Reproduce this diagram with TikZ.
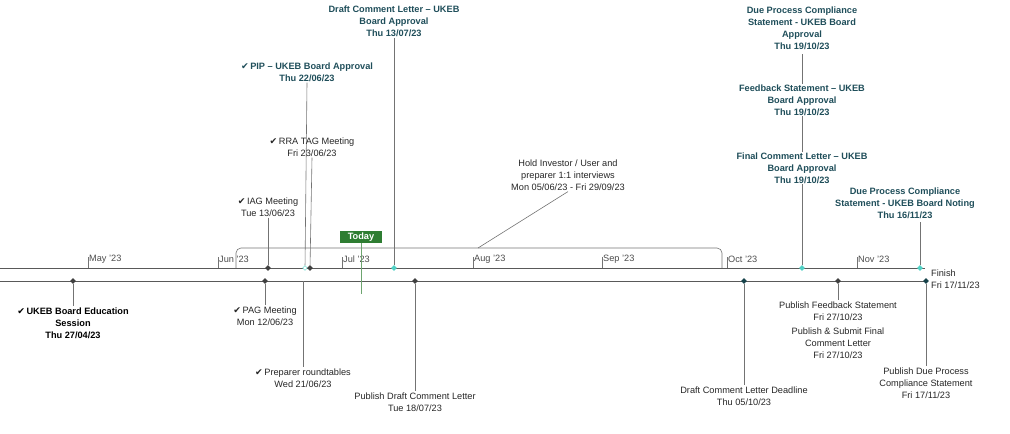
\documentclass[tikz,border=0pt]{standalone}
\usepackage{fontspec}
\usetikzlibrary{shapes.geometric}
\setmainfont{Liberation Sans}
\newfontfamily\symf{DejaVu Sans}
\definecolor{teal}{HTML}{1F4E5A}
\definecolor{cyanm}{HTML}{4FD1C5}
\definecolor{darkteal}{HTML}{17424A}
\definecolor{tgreen}{HTML}{2E7D32}
\newcommand{\ck}{{\symf\char"2714}}
\begin{document}
\begin{tikzpicture}[x=1pt,y=-1pt,
 lbl/.style={font=\fontsize{9.2}{12}\selectfont,align=center,inner sep=1pt,text=black!85},
 blbl/.style={lbl,font=\fontsize{9.2}{12}\selectfont\bfseries,text=teal},
 kblbl/.style={lbl,font=\fontsize{9.2}{12}\selectfont\bfseries,text=black},
 mon/.style={font=\fontsize{9.2}{12}\selectfont,text=black!70,anchor=west,inner sep=1pt},
 dm/.style={diamond,fill=black!75,inner sep=0pt,minimum size=6pt},
 dc/.style={dm,fill=cyanm},
 dt/.style={dm,fill=darkteal},
 ln/.style={draw=black!65,line width=0.6pt},
 vl/.style={draw=black!55,line width=0.6pt}]
\useasboundingbox (0,0) rectangle (1010,434);
% axes
\coordinate (a0) at (0,268); \coordinate (a1) at (925,268);
\coordinate (b0) at (0,281); \coordinate (b1) at (926,281);
\draw[ln] (a0) -- (a1);
\draw[ln] (b0) -- (b1);
% month ticks
\foreach \x/\m in {88/May,218/Jun,342/Jul,473/Aug,602/Sep,727/Oct,857/Nov}{
 \draw[vl] (\x,257) -- (\x,268);
 \node[mon] (m\m) at (\x,259) {\m\ '23};}
% bracket
\draw[vl,rounded corners=5pt] (236,268) -- (236,248) -- (722,248) -- (722,268);
\coordinate (br) at (478,248);
% today
\node[fill=tgreen,text=white,font=\fontsize{9.2}{12}\selectfont\bfseries,inner sep=2pt,minimum width=42pt] (today) at (361,237) {Today};
\coordinate (te) at (361,294);
\draw[tgreen!70!white,line width=1pt] (today.south) -- (te);
% top diamonds
\node[dm] (t1) at (268,268) {};
\node[dc,fill=white,draw=cyanm,minimum size=5pt] (t2) at (305,268) {};
\node[dm] (t3) at (310,268) {};
\node[dc] (t4) at (394,268) {};
\node[dc] (t5) at (802,268) {};
\node[dc] (t6) at (920,268) {};
% bottom diamonds
\node[dm] (b1d) at (73,281) {};
\node[dm] (b2d) at (265,281) {};
\node[dm] (b3d) at (415,281) {};
\node[dt] (b4d) at (744,281) {};
\node[dm] (b5d) at (838,281) {};
\node[dt] (b6d) at (926,281) {};
\coordinate (pr) at (303,281);
% top labels
\node[blbl] (L1) at (394,21) {Draft Comment Letter – UKEB\\Board Approval\\Thu 13/07/23};
\draw[vl] (L1.south) -- (t4);
\node[blbl] (L2) at (307,72) {\ck\,PIP – UKEB Board Approval\\Thu 22/06/23};
\draw[vl] (L2.south) -- (t2);
\node[lbl] (L3) at (312,147) {\ck\,RRA TAG Meeting\\Fri 23/06/23};
\draw[vl] (L3.south) -- (t3);
\node[lbl] (L4) at (268,207) {\ck\,IAG Meeting\\Tue 13/06/23};
\draw[vl] (L4.south) -- (t1);
\node[lbl] (L5) at (568,175) {Hold Investor / User and\\preparer 1:1 interviews\\Mon 05/06/23 - Fri 29/09/23};
\draw[vl] (br) -- (L5.south);
\draw[vl] (802,54) -- (t5);
\node[blbl] (L6) at (802,28) {Due Process Compliance\\Statement - UKEB Board\\Approval\\Thu 19/10/23};
\node[blbl,fill=white] (L7) at (802,100) {Feedback Statement – UKEB\\Board Approval\\Thu 19/10/23};
\node[blbl,fill=white] (L8) at (802,168) {Final Comment Letter – UKEB\\Board Approval\\Thu 19/10/23};
\node[blbl] (L9) at (905,203) {Due Process Compliance\\Statement - UKEB Board Noting\\Thu 16/11/23};
\draw[vl] (920,222) -- (t6);
\node[lbl,anchor=west,align=left] (fin) at (930,279) {Finish\\Fri 17/11/23};
% bottom labels
\node[kblbl] (B1) at (73,323) {\ck\,UKEB Board Education\\Session\\Thu 27/04/23};
\draw[vl] (b1d) -- (B1.north);
\node[lbl] (B2) at (265,316) {\ck\,PAG Meeting\\Mon 12/06/23};
\draw[vl] (b2d) -- (B2.north);
\node[lbl] (B3) at (303,378) {\ck\,Preparer roundtables\\Wed 21/06/23};
\draw[vl] (pr) -- (B3.north);
\node[lbl] (B4) at (415,402) {Publish Draft Comment Letter\\Tue 18/07/23};
\draw[vl] (b3d) -- (B4.north);
\node[lbl] (B5) at (744,396) {Draft Comment Letter Deadline\\Thu 05/10/23};
\draw[vl] (b4d) -- (B5.north);
\node[lbl] (B6) at (838,311) {Publish Feedback Statement\\Fri 27/10/23};
\draw[vl] (b5d) -- (B6.north);
\node[lbl] (B7) at (838,343) {Publish \& Submit Final\\Comment Letter\\Fri 27/10/23};
\node[lbl] (B8) at (926,383) {Publish Due Process\\Compliance Statement\\Fri 17/11/23};
\draw[vl] (b6d) -- (B8.north);
\end{tikzpicture}
\end{document}
